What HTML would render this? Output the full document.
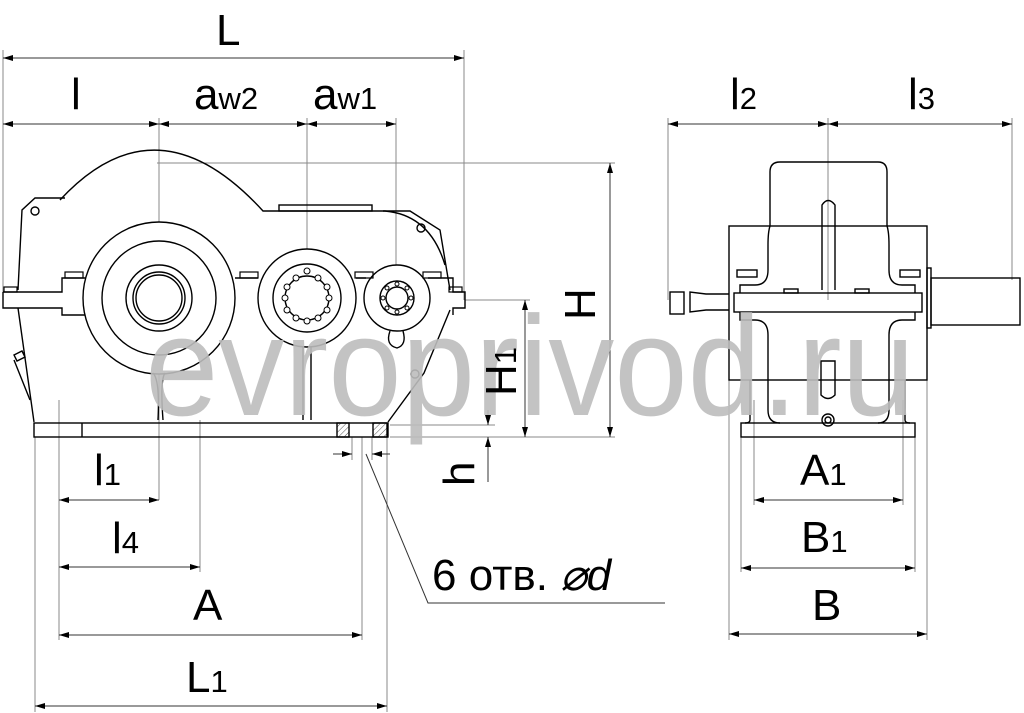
<!DOCTYPE html>
<html><head><meta charset="utf-8"><style>
html,body{margin:0;padding:0;background:#fff;width:1024px;height:713px;overflow:hidden}
svg{display:block}
text{font-family:"Liberation Sans",sans-serif;fill:#000}
</style></head><body>
<svg width="1024" height="713" viewBox="0 0 1024 713" xmlns="http://www.w3.org/2000/svg">
<defs>
<marker id="a" viewBox="0 0 10 6" refX="10" refY="3" markerWidth="10" markerHeight="6" orient="auto-start-reverse" markerUnits="userSpaceOnUse"><path d="M0,0L10,3L0,6z" fill="#000"/></marker>
<pattern id="h" width="4" height="4" patternUnits="userSpaceOnUse" patternTransform="rotate(45)"><line x1="0" y1="0" x2="0" y2="4" stroke="#555" stroke-width="1"/></pattern>
</defs>
<g stroke="#888" stroke-width="1" fill="none">
<line x1="3" y1="50" x2="3" y2="300"/>
<line x1="464" y1="50" x2="464" y2="300"/>
<line x1="159" y1="118" x2="159" y2="500"/>
<line x1="307" y1="118" x2="307" y2="300"/>
<line x1="396" y1="118" x2="396" y2="300"/>
<line x1="157" y1="163" x2="615" y2="163"/>
<line x1="465" y1="300" x2="530" y2="300"/>
<line x1="390" y1="437" x2="615" y2="437"/>
<line x1="390" y1="425" x2="495" y2="425"/>
<line x1="35" y1="437" x2="35" y2="712"/>
<line x1="387" y1="437" x2="387" y2="712"/>
<line x1="59" y1="400" x2="59" y2="640"/>
<line x1="200" y1="420" x2="200" y2="572"/>
<line x1="362" y1="437" x2="362" y2="640"/>
<line x1="352" y1="437" x2="352" y2="460"/>
<line x1="372" y1="437" x2="372" y2="460"/>
<line x1="668" y1="118" x2="668" y2="300"/>
<line x1="828" y1="118" x2="828" y2="300"/>
<line x1="1012" y1="118" x2="1012" y2="280"/>
<line x1="729" y1="380" x2="729" y2="640"/>
<line x1="927" y1="380" x2="927" y2="640"/>
<line x1="741" y1="437" x2="741" y2="572"/>
<line x1="915" y1="437" x2="915" y2="572"/>
<line x1="754" y1="400" x2="754" y2="505"/>
<line x1="903" y1="400" x2="903" y2="505"/>
</g>
<g stroke="#333" stroke-width="1" fill="none" marker-start="url(#a)" marker-end="url(#a)">
<line x1="3" y1="58" x2="464" y2="58"/>
<line x1="3" y1="124" x2="159" y2="124"/>
<line x1="159" y1="124" x2="307" y2="124"/>
<line x1="307" y1="124" x2="396" y2="124"/>
<line x1="610" y1="163" x2="610" y2="437"/>
<line x1="525" y1="300" x2="525" y2="437"/>
<line x1="59" y1="500" x2="159" y2="500"/>
<line x1="59" y1="567" x2="200" y2="567"/>
<line x1="59" y1="635" x2="362" y2="635"/>
<line x1="35" y1="706" x2="387" y2="706"/>
<line x1="668" y1="124" x2="828" y2="124"/>
<line x1="828" y1="124" x2="1012" y2="124"/>
<line x1="754" y1="500" x2="903" y2="500"/>
<line x1="741" y1="568" x2="915" y2="568"/>
<line x1="729" y1="634" x2="927" y2="634"/>
</g>
<g stroke="#333" stroke-width="1" fill="none">
<line x1="488" y1="410" x2="488" y2="425" marker-end="url(#a)"/>
<line x1="488" y1="482" x2="488" y2="437" marker-end="url(#a)"/>
<line x1="333" y1="454" x2="352" y2="454" marker-end="url(#a)"/>
<line x1="390" y1="454" x2="372" y2="454" marker-end="url(#a)"/>
<polyline points="366,454 428,603 665,603"/>
</g>
<g stroke="#000" stroke-width="1.4" fill="none">
<path d="M60,200 Q157,95 263,211 L385,211 Q430,215 445,265"/>
<rect x="279" y="205" width="93" height="6"/>
<path d="M18,290 L22,210 L35,198 L65,198"/>
<path d="M383,211 L410,211 L440,230 L450,290"/>
<path d="M3,292 H62 V278 H90 M235,278 H258 M356,278 H366 M428,278 H453 V292 H465 V308 H453 V315 M3,292 V308 H62 V315 H90"/>
<path d="M18,308 L34,422 M450,310 L424,373 L388,422"/>
<rect x="34" y="423" width="354" height="14"/>
<line x1="82" y1="423" x2="82" y2="437"/>
<rect x="337" y="423" width="12" height="14" fill="url(#h)"/>
<rect x="373" y="423" width="14" height="14" fill="url(#h)"/>
<circle cx="159" cy="298" r="76" fill="#fff"/>
<circle cx="159" cy="298" r="57"/>
<circle cx="159" cy="298" r="33"/>
<circle cx="159" cy="298" r="26"/>
<circle cx="159" cy="298" r="23"/>
<circle cx="307" cy="298" r="49" fill="#fff"/>
<circle cx="307" cy="298" r="34"/>
<circle cx="307" cy="298" r="22"/>
<circle cx="397" cy="298" r="33" fill="#fff"/>
<circle cx="397" cy="298" r="17"/>
<circle cx="397" cy="298" r="11"/>
<path d="M153,373 Q160,380 158,420 M165,373 Q160,380 163,420 M303,347 V420 M311,347 V420"/>
<path d="M390,331 Q385,345 397,348 Q407,345 403,331"/>
<circle cx="35" cy="211" r="4"/><circle cx="421" cy="228" r="4"/><circle cx="415" cy="374" r="4"/>
<path d="M14,360 L30,400 M14,355 l8,-4 l3,6 l-8,4z"/>
</g>
<g fill="none" stroke="#000" stroke-width="1.2">
<rect x="65" y="272" width="18" height="6"/><rect x="240" y="272" width="18" height="6"/><rect x="355" y="272" width="18" height="6"/><rect x="423" y="272" width="18" height="6"/><rect x="4" y="287" width="13" height="5"/><rect x="449" y="287" width="13" height="5"/>
</g>
<g fill="#fff" stroke="#000" stroke-width="1">
<circle cx="307" cy="271" r="3"/><circle cx="318" cy="278" r="3"/><circle cx="327" cy="287" r="3"/><circle cx="329" cy="298" r="3"/><circle cx="327" cy="310" r="3"/><circle cx="318" cy="318" r="3"/><circle cx="307" cy="321" r="3"/><circle cx="296" cy="318" r="3"/><circle cx="287" cy="310" r="3"/><circle cx="285" cy="298" r="3"/><circle cx="287" cy="287" r="3"/><circle cx="296" cy="278" r="3"/>
<circle cx="397" cy="284" r="2"/><circle cx="407" cy="288" r="2"/><circle cx="411" cy="298" r="2"/><circle cx="407" cy="308" r="2"/><circle cx="397" cy="312" r="2"/><circle cx="387" cy="308" r="2"/><circle cx="383" cy="298" r="2"/><circle cx="387" cy="288" r="2"/>
</g>
<g stroke="#000" stroke-width="1.4" fill="none">
<path d="M770,226 V172 Q770,162 780,162 H878 Q887,162 887,172 V226"/>
<rect x="729" y="226" width="198" height="154"/>
<path d="M770,226 Q768,232 768,245 V270 Q768,285 755,285 H740 V293 M887,226 Q889,232 889,245 V270 Q889,285 902,285 H915 V293"/>
<rect x="734" y="293" width="188" height="19"/>
<path d="M740,312 V320 H755 Q768,320 768,335 V410 Q768,423 780,423 M915,312 V320 H902 Q889,320 889,335 V410 Q889,423 878,423"/>
<path d="M750,380 V420 Q750,423 745,423 M905,380 V420 Q905,423 910,423"/>
<rect x="741" y="423" width="174" height="14"/>
<path d="M822,290 V205 Q828,196 835,205 V290"/>
<path d="M821,361 V395 Q828,402 835,395 V361 Z"/>
<circle cx="828" cy="420" r="6"/><circle cx="828" cy="420" r="3"/>
<rect x="927" y="268" width="4" height="60"/>
<rect x="931" y="278" width="89" height="47"/>
<path d="M729,294 H706 L690,292 V312 L706,310 H729"/>
<rect x="670" y="292" width="14" height="22"/>
<rect x="737" y="270" width="20" height="7"/><rect x="900" y="270" width="20" height="7"/><rect x="784" y="289" width="14" height="4"/><rect x="855" y="289" width="14" height="4"/>
</g>
<text x="145" y="415" font-size="142" style="fill:#bdbdbd;fill-opacity:0.9" textLength="770" lengthAdjust="spacingAndGlyphs">evroprivod.ru</text>
<g font-size="44">
<text x="216" y="45">L</text>
<text x="71" y="109">l</text>
<text x="194" y="109">a<tspan font-size="31">w2</tspan></text>
<text x="313" y="109">a<tspan font-size="31">w1</tspan></text>
<text x="94" y="485">l<tspan font-size="31">1</tspan></text>
<text x="112" y="553">l<tspan font-size="31">4</tspan></text>
<text x="193" y="620">A</text>
<text x="186" y="692">L<tspan font-size="31">1</tspan></text>
<text x="730" y="109">l<tspan font-size="31">2</tspan></text>
<text x="908" y="109">l<tspan font-size="31">3</tspan></text>
<text x="800" y="485">A<tspan font-size="31">1</tspan></text>
<text x="801" y="552">B<tspan font-size="31">1</tspan></text>
<text x="812" y="620">B</text>
<text x="432" y="590">6 отв. <tspan font-style="italic">⌀d</tspan></text>
<text transform="translate(595,320) rotate(-90)">H</text>
<text transform="translate(516,396) rotate(-90)">H<tspan font-size="31">1</tspan></text>
<text transform="translate(474,486) rotate(-90)">h</text>
</g>
</svg>
</body></html>
